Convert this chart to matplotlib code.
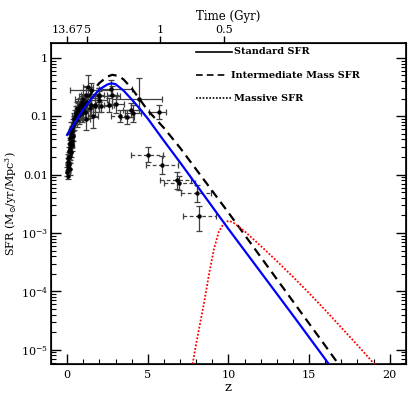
import numpy as np
import matplotlib
matplotlib.use("Agg")
import matplotlib.pyplot as plt
from matplotlib.ticker import FixedLocator, NullFormatter, LogLocator

plt.rcParams['font.family'] = ['DejaVu Serif']
plt.rcParams['mathtext.fontset'] = 'dejavuserif'

# ---- model curves (z, log10 SFR) ----
std_z = [0, 0.5, 1, 1.5, 2, 2.5, 2.75, 3, 3.5, 4, 4.5, 5, 6, 7, 8, 10, 12, 14, 16, 16.6]
std_logsfr = [-1.32, -1.10, -0.88, -0.70, -0.54, -0.455, -0.435, -0.45, -0.56, -0.71, -0.87, -1.04,
              -1.42, -1.79, -2.17, -2.93, -3.67, -4.41, -5.16, -5.39]
int_z = [0, 0.5, 1, 1.5, 2, 2.5, 2.8, 3.2, 3.5, 4, 4.5, 5, 6, 7, 8, 10, 12, 14, 16, 17.2]
int_logsfr = [-1.32, -1.08, -0.82, -0.60, -0.43, -0.32, -0.29, -0.31, -0.37, -0.52, -0.71, -0.90,
              -1.20, -1.54, -1.91, -2.65, -3.41, -4.17, -4.93, -5.39]
mas_z = [7.6, 7.9, 8.2, 8.5, 8.8, 9.1, 9.4, 9.7, 10.0, 10.3, 11, 12, 13, 14, 15, 16, 17, 18, 19, 19.6]
mas_logsfr = [-5.55, -5.05, -4.61, -4.18, -3.70, -3.28, -2.98, -2.84, -2.79, -2.82, -2.97, -3.22,
              -3.48, -3.75, -4.03, -4.32, -4.62, -4.92, -5.23, -5.42]

# ---- observational data: z, log SFR, z- , z+, dex- , dex+ ----
obs_z = [0.02, 0.03, 0.05, 0.05, 0.07, 0.08, 0.10, 0.10, 0.12, 0.15, 0.15, 0.17, 0.20, 0.20, 0.22,
         0.25, 0.28, 0.30, 0.32, 0.35, 0.38, 0.40, 0.45, 0.50, 0.55, 0.60, 0.65, 0.70, 0.75, 0.80,
         0.85, 0.90, 1.00, 1.00, 1.10, 1.15, 1.20, 1.25, 1.28, 1.40, 1.50, 1.60, 1.70, 2.00, 0.3,
         0.9, 1.1, 0.15, 0.25, 0.6]
obs_logsfr = [-1.95, -2.02, -1.85, -1.72, -1.78, -1.90, -1.70, -1.60, -1.82, -1.55, -1.68, -1.45,
              -1.50, -1.38, -1.62, -1.30, -1.42, -1.25, -1.20, -1.33, -1.15, -1.05, -1.12, -1.00,
              -0.95, -1.06, -0.90, -0.86, -0.98, -0.80, -0.92, -0.75, -0.86, -0.70, -0.92, -0.64,
              -1.05, -0.76, -0.50, -0.85, -0.80, -1.00, -0.82, -0.72, -1.5, -0.95, -0.8, -1.9, -1.2,
              -0.88]
obs_zlo = [0.02, 0.03, 0.05, 0.05, 0.05, 0.05, 0.05, 0.05, 0.05, 0.05, 0.05, 0.05, 0.1, 0.1, 0.1,
           0.1, 0.1, 0.1, 0.1, 0.1, 0.1, 0.1, 0.15, 0.2, 0.15, 0.2, 0.15, 0.2, 0.2, 0.2,
           0.25, 0.2, 0.25, 0.5, 0.2, 0.3, 0.2, 0.25, 0.3, 0.2, 0.3, 0.3, 0.2, 0.5, 0.1,
           0.2, 0.3, 0.05, 0.1, 0.1]
obs_zhi = obs_zlo
obs_dlo = [0.08, 0.06, 0.07, 0.08, 0.06, 0.08, 0.08, 0.07, 0.08, 0.08, 0.07, 0.08, 0.09, 0.08,
           0.08, 0.09, 0.1, 0.09, 0.1, 0.1, 0.1, 0.1, 0.12, 0.1, 0.12, 0.12, 0.12, 0.12, 0.15, 0.12,
           0.15, 0.14, 0.15, 0.15, 0.15, 0.15, 0.18, 0.15, 0.2, 0.18, 0.18, 0.2, 0.2, 0.2, 0.1,
           0.15, 0.15, 0.1, 0.1, 0.12]
obs_dhi = obs_dlo

# binned measurements with wide redshift bins (solid bars)
bin_z = [1.5, 2.0, 2.1, 2.73, 3.04, 3.72, 3.97, 4.07, 4.48, 5.72, 2.77, 2.58, 2.0, 1.7]
bin_logsfr = [-0.55, -0.66, -0.82, -0.53, -0.79, -1.02, -0.89, -0.95, -0.70, -0.92, -0.64, -0.80,
              -0.64, -0.81]
bin_zlo = [1.3, 1.25, 0.7, 0.73, 0.5, 0.4, 0.5, 0.5, 1.68, 0.62, 0.3, 0.3, 0.3, 0.3]
bin_zhi = [1.3, 1.25, 0.7, 1.27, 0.5, 0.4, 0.5, 0.5, 1.42, 0.42, 0.3, 0.3, 0.3, 0.3]
bin_dlo = [0.12, 0.1, 0.1, 0.1, 0.15, 0.12, 0.12, 0.15, 0.2, 0.12, 0.15, 0.12, 0.12, 0.12]
bin_dhi = [0.12, 0.1, 0.1, 0.15, 0.15, 0.12, 0.12, 0.15, 0.35, 0.12, 0.15, 0.12, 0.12, 0.12]

# high-z points (dashed bars)
hz_z = [3.3, 5.0, 5.87, 6.82, 6.96, 8.03, 8.16]
hz_logsfr = [-1.0, -1.66, -1.835, -2.10, -2.15, -2.32, -2.71]
hz_zlo = [0.6, 1.03, 0.97, 1.05, 0.96, 0.96, 0.96]
hz_zhi = [0.3, 0.93, 0.99, 0.87, 0.94, 0.90, 1.08]
hz_dlo = [0.1, 0.13, 0.15, 0.15, 0.12, 0.15, 0.25]
hz_dhi = [0.1, 0.13, 0.15, 0.15, 0.12, 0.15, 0.18]

# top axis (cosmic time)
time_labels = ['13.67', '5', '1', '0.5']
time_z = [0.0, 1.24, 5.77, 9.72]


def draw_err(ax, z, lg, zlo, zhi, dlo, dhi, dashed=False):
    z = np.asarray(z, float)
    lg = np.asarray(lg, float)
    y = 10 ** lg
    ylo = y - 10 ** (lg - np.asarray(dlo))
    yhi = 10 ** (lg + np.asarray(dhi)) - y
    eb = ax.errorbar(z, y, xerr=[zlo, zhi], yerr=[ylo, yhi], fmt='o', ms=2.2,
                     color='black', ecolor='0.25', elinewidth=0.9, capsize=2, capthick=0.9,
                     zorder=2)
    if dashed:
        eb[2][0].set_linestyle((0, (3, 2)))


fig = plt.figure(figsize=(4.15, 4.15), dpi=100)
ax = fig.add_axes([0.1229, 0.1229, 0.855, 0.7735])

draw_err(ax, obs_z, obs_logsfr, obs_zlo, obs_zhi, obs_dlo, obs_dhi)
draw_err(ax, bin_z, bin_logsfr, bin_zlo, bin_zhi, bin_dlo, bin_dhi)
draw_err(ax, hz_z, hz_logsfr, hz_zlo, hz_zhi, hz_dlo, hz_dhi, dashed=True)

ax.plot(std_z, 10 ** np.array(std_logsfr), color='blue', lw=1.6, zorder=4)
ax.plot(int_z, 10 ** np.array(int_logsfr), color='black', lw=1.6, ls=(0, (4, 2.5)), zorder=3)
ax.plot(mas_z, 10 ** np.array(mas_logsfr), color='red', lw=1.3, ls=(0, (1, 1)), zorder=3)

ax.set_yscale('log')
ax.set_xlim(-1, 21)
ax.set_ylim(5.7e-6, 1.8)

ax.xaxis.set_major_locator(FixedLocator([0, 5, 10, 15, 20]))
ax.xaxis.set_minor_locator(FixedLocator(list(range(-1, 22))))
ax.yaxis.set_minor_locator(LogLocator(base=10, subs=np.arange(2, 10), numticks=20))
ax.yaxis.set_minor_formatter(NullFormatter())
yt = [1e-5, 1e-4, 1e-3, 1e-2, 1e-1, 1]
ax.set_yticks(yt)
ax.set_yticklabels([r'$10^{-5}$', r'$10^{-4}$', r'$10^{-3}$', '0.01', '0.1', '1'])

ax.tick_params(which='both', direction='in', top=False, right=True, labelsize=8)
ax.tick_params(axis='y', pad=2)
ax.tick_params(axis='x', pad=4)
ax.tick_params(which='major', length=7, width=1)
ax.tick_params(which='minor', length=3.5, width=0.8)
for s in ax.spines.values():
    s.set_linewidth(1.2)

ax.set_xlabel('z', fontsize=9.5, labelpad=1)
ax.set_ylabel(r'SFR (M$_{\odot}$/yr/Mpc$^3$)', fontsize=8)
ax.yaxis.set_label_coords(-0.09, 0.5)

top = ax.twiny()
top.set_xlim(ax.get_xlim())
top.set_xticks(time_z)
top.set_xticklabels(time_labels, fontsize=8)
top.tick_params(direction='out', length=5, width=1, pad=1)
top.set_xlabel('Time (Gyr)', fontsize=8.5, labelpad=3)

# legend drawn with black sample lines
leg_y = [0.973, 0.900, 0.828]
leg_ls = ['-', (0, (4, 2.5)), (0, (1, 1))]
leg_txt = ['Standard SFR', 'Intermediate Mass SFR', 'Massive SFR']
leg_x0 = [0.408, 0.408, 0.408]
leg_x1 = [0.51, 0.50, 0.51]
for y, ls, t, x0, x1 in zip(leg_y, leg_ls, leg_txt, leg_x0, leg_x1):
    ax.plot([x0, x1], [y, y], transform=ax.transAxes, color='black', lw=1.2, ls=ls)
    ax.text(x1 + 0.006, y, t, transform=ax.transAxes, fontsize=7, fontweight='bold',
            va='center', ha='left')

fig.savefig('out.png', dpi=100)
